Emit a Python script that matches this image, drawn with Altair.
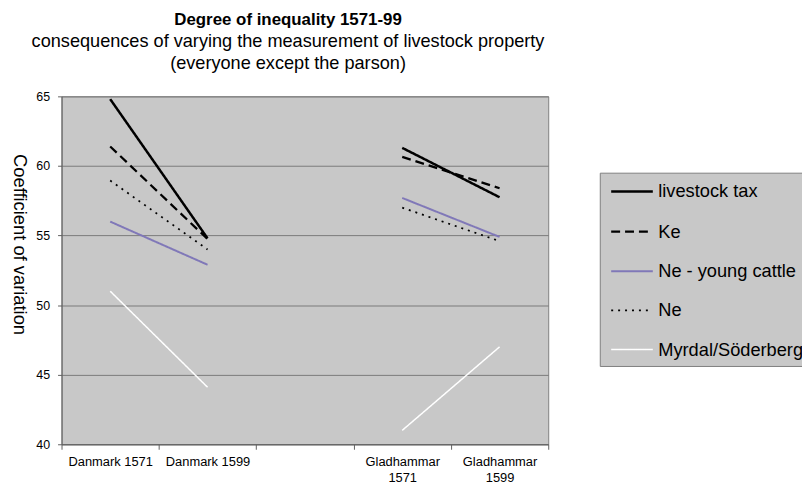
import altair as alt
import pandas as pd

categories = ["Danmark 1571", "Danmark 1599", " ", "Gladhammar 1571", "Gladhammar 1599"]
x_points = ["Danmark 1571", "Danmark 1599", "Gladhammar 1571", "Gladhammar 1599"]
region = ["Danmark", "Danmark", "Gladhammar", "Gladhammar"]
series = ["livestock tax", "Ke", "Ne - young cattle", "Ne", "Myrdal/Söderberg"]

livestock_tax = [64.8, 54.8, 61.3, 57.75]
ke = [61.4, 54.75, 60.65, 58.4]
ne_young_cattle = [56.0, 52.9, 57.7, 54.9]
ne = [58.95, 54.0, 57.0, 54.6]
myrdal_soderberg = [51.0, 44.1, 41.0, 47.0]

colors = ["#000000", "#000000", "#8078b8", "#000000", "#ffffff"]
dashes = [[1, 0], [9, 5], [1, 0], [2, 5], [1, 0]]
widths = [2.5, 1.5, 2.5, 1.6, 2.5]

values = [livestock_tax, ke, ne_young_cattle, ne, myrdal_soderberg]
rows = []
for s, vals in zip(series, values):
    for p, r, v in zip(x_points, region, vals):
        rows.append({"series": s, "period": p, "region": r, "value": v})
df = pd.DataFrame(rows)

FONT = "Liberation Sans"

legend = alt.Legend(
    title=None,
    orient="none",
    legendX=543,
    legendY=77,
    fillColor="#c8c8c8",
    strokeColor="#808080",
    padding=7,
    rowPadding=18.5,
    symbolType="M-1,0H3",
    symbolSize=441,
    symbolOffset=3,
    labelFont=FONT,
    labelFontSize=18.4,
    labelColor="#000000",
    labelOffset=25,
    labelLimit=300,
)

chart = (
    alt.Chart(df)
    .mark_line(strokeCap="butt")
    .encode(
        x=alt.X(
            "period:N",
            sort=categories,
            scale=alt.Scale(domain=categories, type="band", paddingInner=0, paddingOuter=0),
            axis=alt.Axis(
                title=None,
                labelAngle=0,
                tickBand="extent",
                grid=False,
                labelExpr="indexof(datum.label, 'Gladhammar') >= 0 ? split(datum.label, ' ') : datum.label",
                labelFont=FONT,
                labelFontSize=13,
                labelColor="#000000",
                labelLineHeight=17,
                labelPadding=6,
                tickSize=5,
                tickColor="#606060",
                domainColor="#606060",
            ),
        ),
        y=alt.Y(
            "value:Q",
            scale=alt.Scale(domain=[40, 65], nice=False, zero=False),
            axis=alt.Axis(
                values=[40, 45, 50, 55, 60, 65],
                title="Coefficient of variation",
                titleAngle=90,
                titleFont=FONT,
                titleFontSize=18.5,
                titleFontWeight="normal",
                titleColor="#000000",
                titlePadding=27,
                titleY=149,
                grid=True,
                gridColor="#7a7a7a",
                gridOpacity=1,
                labelFont=FONT,
                labelFontSize=12.5,
                labelColor="#000000",
                labelPadding=8,
                tickSize=4,
                tickColor="#606060",
                domainColor="#606060",
            ),
        ),
        color=alt.Color("series:N", scale=alt.Scale(domain=series, range=colors), legend=legend),
        strokeDash=alt.StrokeDash("series:N", scale=alt.Scale(domain=series, range=dashes), legend=legend),
        strokeWidth=alt.StrokeWidth("series:N", scale=alt.Scale(domain=series, range=widths), legend=legend),
        detail="region:N",
    )
    .properties(
        width=491,
        height=351,
        autosize=alt.AutoSizeParams(type="none"),
        padding={"left": 54, "top": 87, "right": 256, "bottom": 45},
        title=alt.TitleParams(
            text="Degree of inequality 1571-99",
            subtitle=[
                "consequences of varying the measurement of livestock property",
                "(everyone except the parson)",
            ],
            anchor="middle",
            frame="group",
            dx=-17,
            font=FONT,
            fontSize=17,
            fontWeight="bold",
            color="#000000",
            subtitleFont=FONT,
            subtitleFontSize=18.3,
            subtitleColor="#000000",
            subtitleLineHeight=22,
            subtitlePadding=5,
            offset=17,
        ),
    )
    .configure_view(fill="#c8c8c8", stroke="#808080")
)

chart.save("out.html", embed_options={"renderer": "svg", "actions": False})
